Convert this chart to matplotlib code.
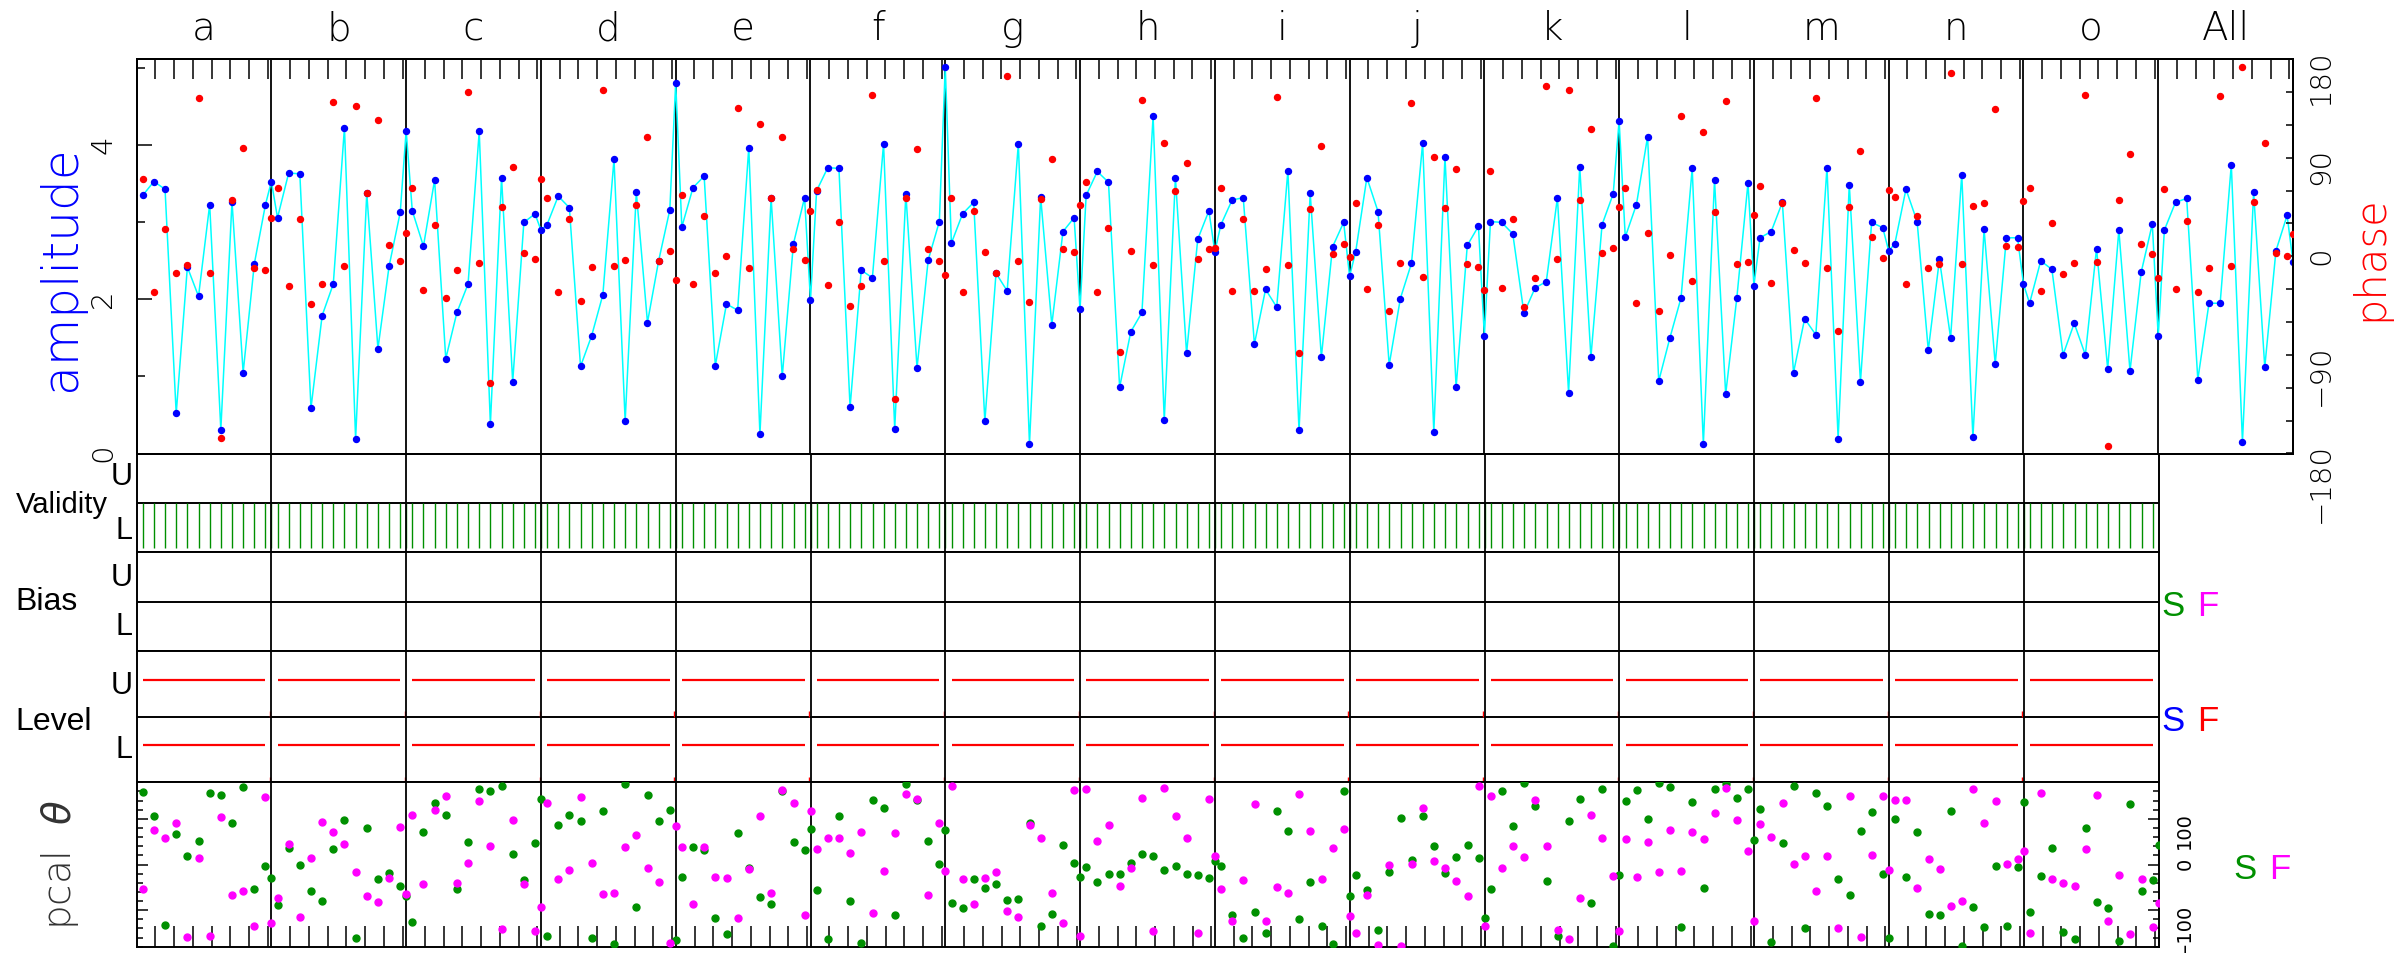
import numpy as np
import matplotlib
matplotlib.use("Agg")
import matplotlib.pyplot as plt
from matplotlib.ticker import MultipleLocator

# ---- data ----
panels = list("abcdefghijklmno") + ["All"]

amplitude = [
    [3.35, 3.53, 3.43, 0.52, 2.42, 2.04, 3.23, 0.31, 3.27, 1.05, 2.46, 3.23, 3.53],
    [3.06, 3.64, 3.63, 0.59, 1.79, 2.20, 4.23, 0.19, 3.38, 1.36, 2.43, 3.13, 4.19],
    [3.15, 2.69, 3.55, 1.23, 1.83, 2.20, 4.18, 0.38, 3.58, 0.93, 3.00, 3.11, 2.90],
    [2.97, 3.34, 3.19, 1.13, 1.53, 2.06, 3.82, 0.42, 3.39, 1.70, 2.50, 3.16, 4.81],
    [2.94, 3.45, 3.60, 1.14, 1.94, 1.86, 3.97, 0.25, 3.32, 1.00, 2.72, 3.32, 1.99],
    [3.41, 3.71, 3.70, 0.60, 2.38, 2.28, 4.02, 0.32, 3.37, 1.11, 2.51, 3.01, 5.02],
    [2.73, 3.11, 3.26, 0.42, 2.34, 2.11, 4.02, 0.12, 3.33, 1.67, 2.88, 3.06, 1.87],
    [3.35, 3.66, 3.52, 0.86, 1.58, 1.83, 4.38, 0.43, 3.58, 1.30, 2.78, 3.15, 2.62],
    [2.97, 3.29, 3.32, 1.42, 2.13, 1.90, 3.67, 0.30, 3.38, 1.25, 2.68, 3.00, 2.30],
    [2.62, 3.58, 3.14, 1.15, 2.01, 2.47, 4.03, 0.28, 3.85, 0.86, 2.70, 2.95, 1.53],
    [3.01, 3.00, 2.85, 1.82, 2.15, 2.23, 3.32, 0.79, 3.72, 1.25, 2.97, 3.37, 4.32],
    [2.81, 3.23, 4.11, 0.94, 1.50, 2.02, 3.70, 0.12, 3.55, 0.77, 2.02, 3.51, 2.18],
    [2.80, 2.88, 3.26, 1.05, 1.75, 1.54, 3.71, 0.19, 3.49, 0.93, 3.00, 2.93, 2.63],
    [2.72, 3.43, 3.01, 1.34, 2.52, 1.50, 3.62, 0.21, 2.91, 1.16, 2.80, 2.80, 2.20],
    [1.95, 2.50, 2.39, 1.28, 1.69, 1.28, 2.66, 1.10, 2.90, 1.07, 2.35, 2.98, 1.52],
    [2.90, 3.26, 3.31, 0.96, 1.95, 1.95, 3.75, 0.15, 3.39, 1.12, 2.63, 3.09, 2.49],
]

phase = [
    [70.6, -32.9, 25.1, -15.0, -8.4, 144.8, -15.3, -165.7, 51.2, 99.2, -11.1, -12.3, 35.1],
    [62.1, -27.2, 34.2, -43.6, -25.1, 141.1, -9.0, 137.5, 57.3, 124.4, 10.5, -4.4, 21.1],
    [62.1, -31.1, 28.1, -38.4, -12.9, 149.9, -6.5, -115.6, 44.8, 81.9, 3.2, -2.3, 70.3],
    [53.6, -32.6, 34.2, -40.8, -10.2, 151.7, -9.0, -3.5, 46.6, 108.6, -4.1, 5.0, -21.4],
    [55.7, -25.1, 36.3, -15.3, 0.2, 135.0, -10.8, 120.5, 52.7, 108.6, 6.5, -3.8, 41.5],
    [60.6, -26.3, 31.4, -45.7, -27.2, 147.5, -4.1, -129.9, 52.7, 98.0, 6.2, -4.1, -17.2],
    [53.6, -32.3, 41.2, 4.1, -15.0, 164.2, -4.4, -41.8, 51.8, 88.9, 6.2, 3.5, 46.6],
    [67.9, -32.9, 25.7, -87.7, 5.0, 142.3, -7.7, 103.1, 59.7, 84.9, -2.9, 6.5, 7.4],
    [62.7, -31.4, 33.9, -31.4, -12.0, 145.4, -8.4, -88.3, 43.3, 100.7, 1.7, 10.8, -1.1],
    [48.2, -29.9, 28.1, -50.2, -6.5, 140.2, -18.7, 90.4, 43.9, 79.7, -6.8, -10.2, -30.5],
    [77.9, -29.3, 34.2, -46.0, -19.9, 155.7, -2.6, 152.1, 51.5, 115.9, 2.6, 7.1, 44.8],
    [62.7, -42.7, 21.4, -49.6, 1.4, 128.4, -22.6, 113.8, 40.0, 141.4, -6.8, -5.6, 37.2],
    [64.3, -24.5, 48.2, 5.3, -6.5, 144.8, -10.8, -67.9, 44.5, 95.8, 17.8, -1.7, 60.3],
    [54.2, -25.4, 36.9, -10.8, -6.8, 167.6, -6.8, 46.0, 48.8, 134.1, 9.0, 8.1, 50.0],
    [62.4, -31.7, 30.5, -15.9, -6.2, 147.2, -5.0, -173.0, 50.9, 93.7, 10.8, 1.7, -20.2],
    [61.5, -30.2, 32.4, -32.6, -10.8, 146.6, -9.3, 172.4, 49.4, 103.5, 3.2, -0.2, 20.2],
]

pcal_s = [
    [158.7, 106.1, -132.4, 67.3, 17.6, 50.5, 155.8, 152.2, 91.4, 170.4, -54.1, -2.2, -28.5],
    [-89.2, 35.1, -1.5, -58.5, -79.7, 32.9, 98.0, -160.9, 80.5, -30.7, -19.0, -47.5, -68.0],
    [-125.1, 71.7, 135.3, 109.0, -53.4, 49.7, 165.3, 160.2, 171.9, 23.4, -33.6, 46.8, 144.1],
    [-156.5, 87.1, 107.5, 94.4, -161.7, 116.3, -174.8, 176.3, -93.6, 151.4, 95.1, 118.5, -166.1],
    [-26.3, 38.0, 30.7, -117.0, -152.2, 68.0, -6.6, -71.7, -87.1, 160.2, 48.3, 30.7, 78.3],
    [-55.6, -162.4, 106.1, -80.5, -172.6, 140.5, 123.6, -110.5, 175.6, 141.9, 51.9, 0.7, 75.3],
    [-83.4, -95.1, -30.7, -51.2, -41.7, -78.3, -75.3, 90.7, -134.6, -108.3, 41.7, 2.9, -27.8],
    [-5.1, -37.3, -20.5, -21.2, 2.9, 21.9, 17.6, -12.4, -2.9, -19.8, -22.7, -30.0, 7.3],
    [-2.9, -109.7, -161.7, -103.1, -150.0, 116.3, 73.2, -118.5, -38.8, -135.3, -174.1, 160.2, -68.0],
    [-21.9, -54.9, -142.6, -16.8, 101.0, 8.8, 105.3, 40.2, -17.6, 16.1, 41.7, 14.6, -117.0],
    [-52.7, 161.7, 84.9, 179.2, 127.3, -35.8, -156.5, 94.4, 143.4, -84.9, 165.3, -177.8, -21.9],
    [138.3, 162.4, 99.5, 178.0, 169.7, -137.5, 137.5, -50.5, 166.1, 176.3, 144.8, 166.1, 52.7],
    [121.4, -169.7, 46.1, 171.2, -139.0, 157.3, 128.0, -30.7, -66.6, 72.4, 115.6, -21.2, -160.9],
    [98.8, -27.1, 70.2, -108.3, -111.2, 117.8, -177.8, -93.6, -137.5, -2.9, -133.9, -5.1, 136.1],
    [-103.1, -24.9, 35.1, -147.8, -163.9, 79.0, -81.2, -94.4, -167.5, 133.1, -57.1, -33.6, 42.4],
]

pcal_f = [
    [-53.4, 76.1, 57.1, 90.7, -158.0, 14.6, -156.5, 103.9, -66.6, -57.8, -133.9, 147.8, -128.0],
    [-73.2, 44.6, -114.1, 13.2, 93.6, 71.7, 43.9, -15.4, -68.0, -81.9, -30.0, 81.2, -63.6],
    [108.3, -43.2, 118.5, 150.0, -41.0, 2.9, 139.7, 41.0, -140.5, 97.3, -43.2, -145.6, -92.9],
    [133.9, -32.2, -11.7, 147.8, 2.2, -65.1, -62.2, 38.0, 63.6, -7.3, -37.3, -171.9, 83.4],
    [38.8, -87.1, 38.8, -27.1, -28.5, -117.8, -9.5, 106.1, -62.2, 163.9, 134.6, -109.7, 117.8],
    [34.4, 57.1, 57.1, 24.1, 70.2, -105.3, -13.2, 68.0, 154.4, 143.4, -67.3, 90.0, -13.9],
    [172.6, -31.5, -85.6, -28.5, -16.1, -101.0, -115.6, 86.3, 57.1, -61.4, -128.0, 163.9, -156.5],
    [166.1, 51.2, 87.1, -47.5, -8.0, 145.6, -145.6, 168.3, 106.1, 57.8, -149.2, 142.6, 19.0],
    [-54.1, -124.4, -32.9, 132.4, -122.9, -49.0, -62.2, 153.6, 72.4, -30.7, 36.6, 76.8, -113.4],
    [-150.0, -65.8, -176.0, -0.7, -178.5, 0.7, 124.4, 6.6, -7.3, -35.8, -68.0, 171.2, -133.9],
    [150.7, -7.3, 40.2, 16.1, 140.5, 40.2, -142.6, -162.4, -73.9, 108.3, 58.5, -24.1, -145.6],
    [56.3, -27.8, 49.7, -16.8, 76.1, -13.9, 70.2, 54.9, 113.4, 168.3, 96.6, 28.5, -123.6],
    [87.8, 60.0, 133.9, 1.5, 18.3, -57.1, 18.3, -139.0, 149.2, -158.7, 20.5, 150.0, -12.4],
    [141.2, 140.5, -51.9, 12.4, -8.8, -90.0, -80.5, 166.1, 90.7, 138.3, 0.7, 11.0, 29.3],
    [-150.0, 157.3, -31.5, -40.2, -46.1, 32.9, 152.2, -122.9, -22.7, -152.2, -32.2, -136.1, -84.9],
]

# level flags sit a bit above the middle of each row
level_u = 1.56
level_l = 0.56

# ---- layout (pixel positions of the reference) ----
FW, FH = 2405, 954
W = 12.08                                   # width of one scan panel in sample units
t_pts = np.r_[np.arange(12) + 0.55, W]      # sample times inside a panel
t_ticks = 1.68 * np.arange(1, 8)


def fy(px):
    return 1 - px / FH


def xs(n):
    return np.concatenate([p * W + t_pts for p in range(n)])


def tick_pos(n):
    return np.concatenate([p * W + t_ticks for p in range(n)])


GREEN = "#009000"
LIGHT = dict(family="DejaVu Sans", fontweight=200)
HELV = dict(family="Liberation Sans")

fig = plt.figure(figsize=(FW / 100, FH / 100), dpi=100)
left = 136.6 / FW
right16 = 2293 / FW
right15 = 2158.6 / FW

ax = fig.add_axes([left, fy(454.5), right16 - left, fy(60) - fy(454.5)])
ax_v = fig.add_axes([left, fy(553.3), right15 - left, fy(454.5) - fy(553.3)])
ax_b = fig.add_axes([left, fy(651.7), right15 - left, fy(553.3) - fy(651.7)])
ax_l = fig.add_axes([left, fy(783.3), right15 - left, fy(651.7) - fy(783.3)])
ax_p = fig.add_axes([left, fy(947.7), right15 - left, fy(783.3) - fy(947.7)])

for a in (ax, ax_v, ax_b, ax_l, ax_p):
    for s in a.spines.values():
        s.set_linewidth(1.4)

# ---- amplitude / phase ----
x16 = xs(16)
amp_all = np.concatenate(amplitude)
ph_all = np.concatenate(phase)

ax.plot(x16, amp_all, color="#00ffff", lw=1.1, zorder=2)
ax.plot(x16, amp_all, "o", ms=4.3, color="#0000ff", mec="#0000ff", zorder=3)
ax.set_xlim(0, 16 * W)
ax.set_ylim(0, 5.12)
for p in range(1, 16):
    ax.axvline(p * W, color="k", lw=1.3, zorder=1)

ax.set_xticks(tick_pos(16))
ax.tick_params(axis="x", direction="in", length=14.5, width=1.1, top=True,
               bottom=False, labelbottom=False)
ax.set_yticks([0, 2, 4])
ax.yaxis.set_minor_locator(MultipleLocator(1))
ax.tick_params(axis="y", which="major", direction="in", length=10.5, width=1.1,
               labelsize=21, labelrotation=90, pad=14)
ax.tick_params(axis="y", which="minor", direction="in", length=5.5, width=1.1)

axr = ax.twinx()
axr.plot(x16, ph_all, "o", ms=4.3, color="#ff0000", mec="#ff0000", zorder=4)
axr.set_ylim(-180, 180)
axr.set_yticks([180, 90, 0, -90, -180])
axr.set_yticklabels(["180", "90", "0", "\u221290", "\u2212180"])
axr.yaxis.set_minor_locator(MultipleLocator(30))
axr.tick_params(axis="y", which="both", direction="in", length=5, width=1.1,
                labelsize=21, labelrotation=90, pad=10)
for s in axr.spines.values():
    s.set_linewidth(1.4)
for lab in ax.get_yticklabels() + axr.get_yticklabels():
    lab.set_fontweight(200)

for p, name in enumerate(panels):
    ax.text(p * W + W / 2, 1.05, name, transform=ax.get_xaxis_transform(),
            ha="center", va="baseline", fontsize=28, **LIGHT)

fig.text(61 / FW, fy(268), "amplitude", rotation=90, ha="center", va="center",
         color="#0000ff", fontsize=35, **LIGHT)
fig.text(2370 / FW, fy(258), "phase", rotation=90, ha="center", va="center",
         color="#ff0000", fontsize=30, **LIGHT)

# ---- validity / bias / level rows ----
x15 = xs(15)
for a in (ax_v, ax_b, ax_l):
    a.set_xlim(0, 15 * W)
    a.set_ylim(0, 2)
    a.set_xticks([])
    a.set_yticks([])
    a.axhline(1, color="k", lw=1.4)
    for p in range(1, 15):
        a.axvline(p * W, color="k", lw=1.3, zorder=3)

ax_v.vlines(x15, 0.08, 1.0, color=GREEN, lw=1.0)

for p in range(15):
    ax_l.hlines([level_u, level_l], p * W + t_pts[0], p * W + t_pts[11],
                color="#ff0000", lw=1.6)
ax_l.vlines(np.arange(1, 15) * W - 0.12, 0, 0.08, color="#ff0000", lw=1.0)
ax_l.vlines(np.arange(1, 15) * W - 0.12, 1, 1.08, color="#ff0000", lw=1.0)

fig.text(15.6 / FW, fy(505), "Validity", ha="left", va="center", fontsize=21, **HELV)
fig.text(15.6 / FW, fy(602), "Bias", ha="left", va="center", fontsize=23, **HELV)
fig.text(15.6 / FW, fy(722), "Level", ha="left", va="center", fontsize=23, **HELV)
for yc, t in [(477, "U"), (531, "L"), (578, "U"), (627, "L"), (686, "U"), (750, "L")]:
    fig.text(133 / FW, fy(yc), t, ha="right", va="center", fontsize=22, **HELV)

fig.text(2161 / FW, fy(607), "S", color=GREEN, ha="left", va="center", fontsize=25, **HELV)
fig.text(2197 / FW, fy(607), "F", color="#ff00ff", ha="left", va="center", fontsize=25, **HELV)
fig.text(2161 / FW, fy(722), "S", color="#0000ff", ha="left", va="center", fontsize=25, **HELV)
fig.text(2197 / FW, fy(722), "F", color="#ff0000", ha="left", va="center", fontsize=25, **HELV)

# ---- pcal ----
ax_p.set_xlim(0, 15 * W)
ax_p.set_ylim(-180, 180)
for p in range(1, 15):
    ax_p.axvline(p * W, color="k", lw=1.3, zorder=1)
ax_p.plot(x15, np.concatenate(pcal_s), "o", ms=5, color=GREEN, mec=GREEN, zorder=3)
ax_p.plot(x15, np.concatenate(pcal_f), "o", ms=5, color="#ff00ff", mec="#ff00ff", zorder=4)

ax_p.set_xticks(tick_pos(15))
ax_p.tick_params(axis="x", direction="in", length=15, width=1.1, labelbottom=False)
ax_p.set_yticks([100, 0, -100])
ax_p.set_yticklabels(["100", "0", "\u2212100"])
ax_p.yaxis.set_minor_locator(MultipleLocator(20))
ax_p.tick_params(axis="y", which="major", direction="in", length=8, width=1.1,
                 left=True, right=True, labelleft=False, labelright=True,
                 labelsize=14, labelrotation=90, pad=12)
ax_p.tick_params(axis="y", which="minor", direction="in", length=4.3, width=1.1,
                 left=True, right=True)

fig.text(60 / FW, fy(865), "pcal  $\\theta$", rotation=90, ha="center", va="center",
         color="#333333", fontsize=28, **LIGHT)
fig.text(2233 / FW, fy(870), "S", color=GREEN, ha="left", va="center", fontsize=25, **HELV)
fig.text(2269 / FW, fy(870), "F", color="#ff00ff", ha="left", va="center", fontsize=25, **HELV)

fig.savefig("out.png", dpi=100)
